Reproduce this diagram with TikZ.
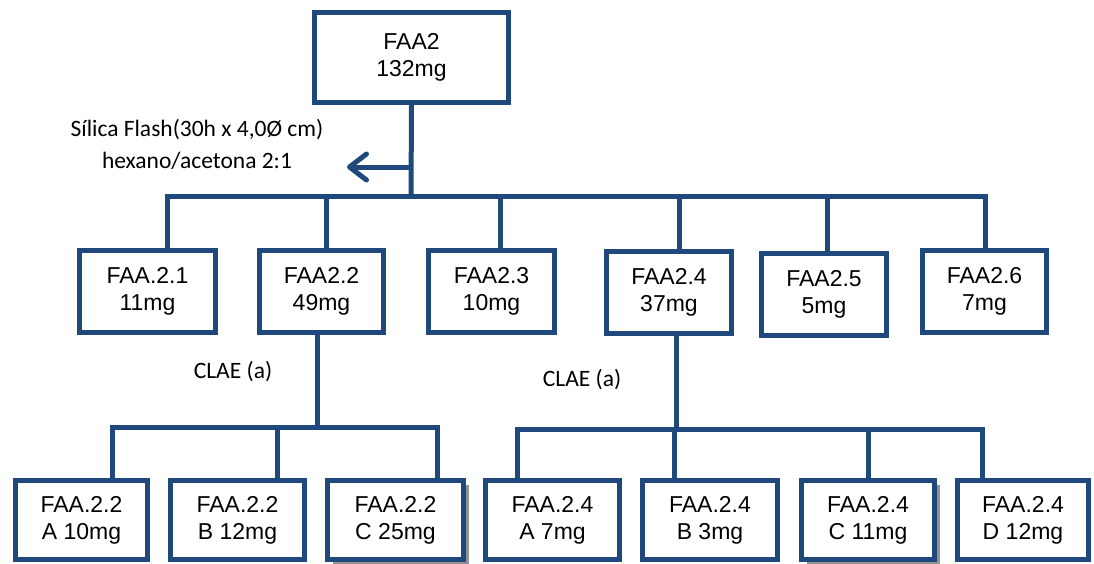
\documentclass[tikz,border=0pt]{standalone}
\usepackage{fontspec}
\setmainfont{Liberation Sans}
\newfontfamily\notefont{Carlito}
\usetikzlibrary{arrows.meta,shadows}
\definecolor{flowblue}{RGB}{31,73,125}

\begin{document}
\begin{tikzpicture}[x=1pt,y=-1pt,
  frac/.style={draw=flowblue,fill=white,line width=5pt,inner sep=0pt,align=center,
    font=\fontsize{23}{27}\selectfont},
  topfrac/.style={frac,minimum width=194pt,minimum height=90pt},
  midfrac/.style={frac,minimum height=82pt},
  lowfrac/.style={frac,minimum height=79pt},
  shade/.style={general shadow={fill=gray!85,shadow xshift=5pt,shadow yshift=-4pt}},
  link/.style={draw=flowblue,line width=5pt},
  note/.style={align=center,font=\notefont\fontsize{23.5}{32}\selectfont}]
\useasboundingbox (0,0) rectangle (1094,563);
% crude fraction
\node[topfrac] (faa) at (411.5,57.5) {FAA2\\132mg};
\node[note] (silica) at (197,144) {Sílica Flash(30h x 4,0Ø cm)\\hexano/acetona 2:1};
\coordinate (out) at (347,167);
\coordinate (j0) at (411,196);
\coordinate (j1) at (167,196);
\coordinate (j2) at (326,196);
\coordinate (j3) at (500,196);
\coordinate (j4) at (679,196);
\coordinate (j5) at (827,196);
\coordinate (j6) at (985,196);
% flash column fractions
\node[midfrac,minimum width=136pt] (a1) at (147.5,291.5) {FAA.2.1\\11mg};
\node[midfrac,minimum width=124pt] (a2) at (321.5,291.5) {FAA2.2\\49mg};
\node[midfrac,minimum width=126pt] (a3) at (491.5,291.5) {FAA2.3\\10mg};
\node[midfrac,minimum width=125pt] (a4) at (669,292) {FAA2.4\\37mg};
\node[midfrac,minimum width=125pt] (a5) at (824,294) {FAA2.5\\5mg};
\node[midfrac,minimum width=124pt] (a6) at (984.5,291.5) {FAA2.6\\7mg};
\draw[link] (faa.south) -- (j0);
\draw[link,-{Straight Barb[length=17pt,width=26pt,line cap=round,line join=round]}] (faa.south |- out) -- (out);
\draw[link] (j1 |- a1.north) -- (j1) -- (j6) -- (j6 |- a6.north);
\foreach \i in {2,...,5}
  \draw[link] (j\i) -- (j\i |- a\i.north);
% CLAE of FAA2.2
\node[note] (clae1) at (233,372) {CLAE (a)};
\coordinate (k0) at (317,427);
\coordinate (k1) at (112,427);
\coordinate (k2) at (277,427);
\coordinate (k3) at (437,427);
\node[lowfrac,minimum width=132pt] (b1) at (81.5,520) {FAA.2.2\\A 10mg};
\node[lowfrac,minimum width=134pt] (b2) at (237.5,520) {FAA.2.2\\B 12mg};
\node[lowfrac,shade,minimum width=136pt] (b3) at (395.5,520) {FAA.2.2\\C 25mg};
\draw[link] (a2.south -| k0) -- (k0);
\draw[link] (k1 |- b1.north) -- (k1) -- (k3) -- (k3 |- b3.north);
\draw[link] (k2) -- (k2 |- b2.north);
% CLAE of FAA2.4
\node[note] (clae2) at (582,380) {CLAE (a)};
\coordinate (m0) at (676,429);
\coordinate (m1) at (517,429);
\coordinate (m2) at (674,429);
\coordinate (m3) at (868,429);
\coordinate (m4) at (982,429);
\node[lowfrac,minimum width=134pt] (c1) at (552.5,520) {FAA.2.4\\A 7mg};
\node[lowfrac,minimum width=135pt] (c2) at (710,520) {FAA.2.4\\B 3mg};
\node[lowfrac,shade,minimum width=133pt] (c3) at (868,520) {FAA.2.4\\C 11mg};
\node[lowfrac,minimum width=131pt] (c4) at (1023,520) {FAA.2.4\\D 12mg};
\draw[link] (a4.south -| m0) -- (m0);
\draw[link] (m1 |- c1.north) -- (m1) -- (m4) -- (m4 |- c4.north);
\draw[link] (m2) -- (m2 |- c2.north);
\draw[link] (m3) -- (m3 |- c3.north);
\end{tikzpicture}
\end{document}
